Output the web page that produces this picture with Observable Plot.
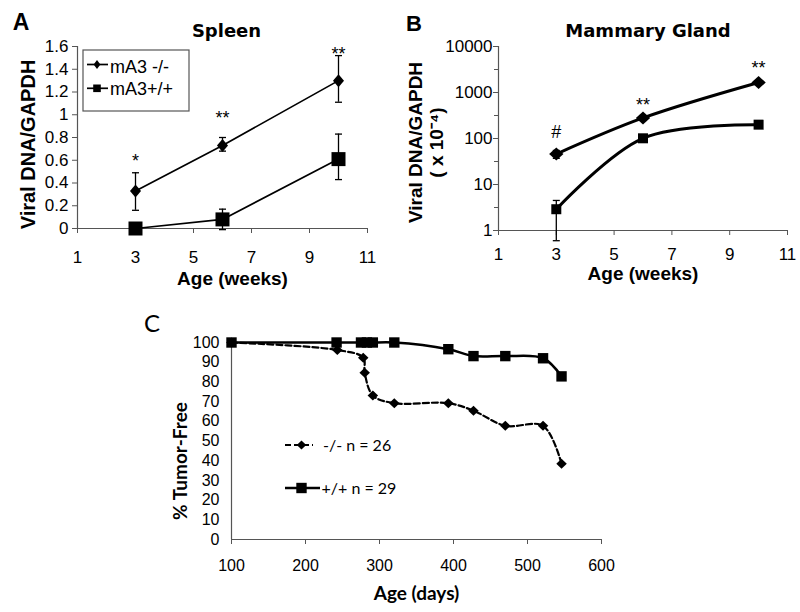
<!DOCTYPE html>
<html><head><meta charset="utf-8">
<script src="https://cdn.jsdelivr.net/npm/d3@7"></script>
<script src="https://cdn.jsdelivr.net/npm/@observablehq/plot@0.6"></script>
<style>
body{margin:0;background:#fff;}
#wrap{position:relative;width:800px;height:612px;overflow:hidden;background:#fff;}
#wrap svg{position:absolute;max-width:none;}
</style></head><body><div id="wrap"></div>
<script>
// ---------- Panel A: Spleen ----------
const weeks = [3, 6, 10];
const spleenKO   = [0.33, 0.73, 1.30];
const spleenKOLo = [0.16, 0.68, 1.11];
const spleenKOHi = [0.49, 0.80, 1.52];
const spleenWT   = [0.00, 0.08, 0.61];
const spleenWTLo = [0.00, -0.01, 0.43];
const spleenWTHi = [0.00, 0.17, 0.83];
const spleenMarks = ["*", "**", "**"];
const spleenMarkY = [0.59, 0.97, 1.53];
const xTicksWeeks = [1, 3, 5, 7, 9, 11];
const yTicksSpleen = [0, 0.2, 0.4, 0.6, 0.8, 1, 1.2, 1.4, 1.6];

// ---------- Panel B: Mammary Gland ----------
const mammaryKO   = [46, 280, 1650];
const mammaryKOLo = [37, 255, 1500];
const mammaryKOHi = [55, 310, 1850];
const mammaryWT   = [2.9, 101, 200];
const mammaryWTLo = [0.6, 95, 185];
const mammaryWTHi = [4.5, 108, 220];
const mammaryMarks = ["#", "**", "**"];
const mammaryMarkY = [134, 531, 3320];
const yTicksMammary = [1, 10, 100, 1000, 10000];
const yMinorMammary = [3.162, 31.62, 316.2, 3162];

// ---------- Panel C: Tumor-free survival ----------
const daysKO = [100, 243, 278, 280, 291, 320, 393, 427, 470, 521, 546];
const tumorFreeKO = [100, 96.2, 92.3, 84.6, 73.1, 69.2, 69.2, 65.4, 57.7, 57.7, 38.5];
const daysWT = [100, 242, 275, 283, 291, 320, 393, 427, 470, 521, 546];
const tumorFreeWT = [100, 100, 100, 100, 100, 100, 96.6, 93.1, 93.1, 92.0, 82.8];
const xTicksDays = [100, 200, 300, 400, 500, 600];
const yTicksPct = [0, 10, 20, 30, 40, 50, 60, 70, 80, 90, 100];

const seriesNames = ["mA3 -/-", "mA3+/+"];
const survivalNames = ["-/- n = 26", "+/+ n = 29"];

// ---------- helpers ----------
const wrap = document.getElementById("wrap");
function place(svg, left, top) { svg.style.left = left + "px"; svg.style.top = top + "px"; wrap.appendChild(svg); }
const capSym = {draw(ctx, size) { const r = Math.sqrt(size / Math.PI); ctx.moveTo(-r, 0); ctx.lineTo(r, 0); }};
const diamondSym = (ratio) => ({draw(ctx, size) { const h = Math.sqrt(size / Math.PI), w = h * ratio; ctx.moveTo(0, -h); ctx.lineTo(w, 0); ctx.lineTo(0, h); ctx.lineTo(-w, 0); ctx.closePath(); }});
const squareSym = {draw(ctx, size) { const h = Math.sqrt(size / Math.PI); ctx.rect(-h, -h, 2 * h, 2 * h); }};
const ARIAL = "'Liberation Sans', Arial, sans-serif";
const CAL = "Lato, 'Open Sans', sans-serif";
const AX = "#555";
const fmt = d => String(d);
const baseStyle = {fontFamily: ARIAL, fontSize: "17px", color: "black", background: "none", overflow: "visible"};
const lbl = {textAnchor: "middle", lineAnchor: "middle", fill: "black", fontWeight: "bold"};

function rows(vals, lo, hi, name) {
  return weeks.map((w, i) => ({week: w, v: vals[i], lo: lo[i], hi: hi[i], group: name}));
}

// ---------- Panel A ----------
const koA = rows(spleenKO, spleenKOLo, spleenKOHi, seriesNames[0]);
const wtA = rows(spleenWT, spleenWTLo, spleenWTHi, seriesNames[1]);
const errA = koA.concat(wtA).filter(d => d.hi > d.lo);
const starsA = weeks.map((w, i) => ({week: w, y: spleenMarkY[i], s: spleenMarks[i]}));

const plotA = Plot.plot({
  width: 400, height: 300, marginLeft: 77, marginRight: 33, marginTop: 46, marginBottom: 72,
  style: baseStyle,
  x: {type: "linear", domain: [1, 11], axis: null},
  y: {type: "linear", domain: [0, 1.6], axis: null},
  marks: [
    Plot.ruleX([1], {stroke: AX, strokeWidth: 1.2}),
    Plot.ruleY([0], {stroke: AX, strokeWidth: 1.2}),
    Plot.axisX(xTicksWeeks, {tickSize: 5, tickPadding: 17, tickFormat: fmt, fontSize: 17, fontFamily: ARIAL, stroke: AX, fill: "black", label: null}),
    Plot.axisY(yTicksSpleen, {tickSize: 5, tickPadding: 4, tickFormat: fmt, fontSize: 17, fontFamily: ARIAL, stroke: AX, fill: "black", label: null}),
    Plot.ruleX(errA, {x: "week", y1: "lo", y2: "hi", stroke: "black", strokeWidth: 1.3}),
    Plot.dot(errA, {x: "week", y: "lo", symbol: capSym, r: 3.5, stroke: "black", fill: "none", strokeWidth: 1.3}),
    Plot.dot(errA, {x: "week", y: "hi", symbol: capSym, r: 3.5, stroke: "black", fill: "none", strokeWidth: 1.3}),
    Plot.line(koA, {x: "week", y: "v", stroke: "black", strokeWidth: 1.7}),
    Plot.line(wtA, {x: "week", y: "v", stroke: "black", strokeWidth: 1.7}),
    Plot.dot(koA, {x: "week", y: "v", symbol: diamondSym(0.85), r: 6.5, fill: "black", stroke: "none"}),
    Plot.dot(wtA, {x: "week", y: "v", symbol: squareSym, r: 7, fill: "black", stroke: "none"}),
    Plot.text(starsA, {x: "week", y: "y", text: "s", fontSize: 18, fontFamily: ARIAL, fill: "black"}),
    Plot.text(["Viral DNA/GAPDH"], {...lbl, frameAnchor: "left", rotate: -90, dx: -49, dy: 7, fontSize: 20, fontFamily: ARIAL}),
    Plot.text(["Age (weeks)"], {...lbl, frameAnchor: "bottom", dx: 10, dy: 50, fontSize: 19, fontFamily: ARIAL}),
    Plot.text(["Spleen"], {...lbl, frameAnchor: "top", dx: 4, dy: -15, fontSize: 18, fontFamily: "DejaVu Sans"})
  ]
});
place(plotA, 0, 0);

// ---------- Panel B ----------
const koB = rows(mammaryKO, mammaryKOLo, mammaryKOHi, seriesNames[0]);
const wtB = rows(mammaryWT, mammaryWTLo, mammaryWTHi, seriesNames[1]);
const errB = koB.concat(wtB);
const starsB = weeks.map((w, i) => ({week: w, y: mammaryMarkY[i], s: mammaryMarks[i]}));

const plotB = Plot.plot({
  width: 400, height: 300, marginLeft: 98, marginRight: 13, marginTop: 46, marginBottom: 70,
  style: baseStyle,
  x: {type: "linear", domain: [1, 11], axis: null},
  y: {type: "log", domain: [1, 10000], axis: null},
  marks: [
    Plot.ruleX([1], {stroke: AX, strokeWidth: 1.2}),
    Plot.ruleY([1], {stroke: AX, strokeWidth: 1.2}),
    Plot.axisX(xTicksWeeks, {tickSize: 5, tickPadding: 12, tickFormat: fmt, fontSize: 17, fontFamily: ARIAL, stroke: AX, fill: "black", label: null}),
    Plot.axisY(yTicksMammary, {tickSize: 5, tickPadding: 1, tickFormat: fmt, fontSize: 17, fontFamily: ARIAL, stroke: AX, fill: "black", label: null}),
    Plot.axisY(yMinorMammary, {tickSize: 4, tickFormat: () => "", stroke: AX, label: null}),
    Plot.ruleX(errB, {x: "week", y1: "lo", y2: "hi", stroke: "black", strokeWidth: 1.3}),
    Plot.dot(errB, {x: "week", y: "lo", symbol: capSym, r: 3.5, stroke: "black", fill: "none", strokeWidth: 1.3}),
    Plot.dot(errB, {x: "week", y: "hi", symbol: capSym, r: 3.5, stroke: "black", fill: "none", strokeWidth: 1.3}),
    Plot.line(koB, {x: "week", y: "v", stroke: "black", strokeWidth: 3, curve: "catmull-rom"}),
    Plot.line(wtB, {x: "week", y: "v", stroke: "black", strokeWidth: 3, curve: "catmull-rom"}),
    Plot.dot(koB, {x: "week", y: "v", symbol: diamondSym(1.1), r: 6.5, fill: "black", stroke: "none"}),
    Plot.dot(wtB, {x: "week", y: "v", symbol: squareSym, r: 5, fill: "black", stroke: "none"}),
    Plot.text(starsB, {x: "week", y: "y", text: "s", fontSize: 18, fontFamily: ARIAL, fill: "black"}),
    Plot.text(["Viral DNA/GAPDH"], {...lbl, frameAnchor: "left", rotate: -90, dx: -83, dy: 4, fontSize: 19, fontFamily: ARIAL}),
    Plot.text(["( x 10⁻⁴)"], {...lbl, frameAnchor: "left", rotate: -90, dx: -62, dy: 4, fontSize: 19, fontFamily: ARIAL}),
    Plot.text(["Age (weeks)"], {...lbl, frameAnchor: "bottom", dx: 0, dy: 43, fontSize: 19, fontFamily: ARIAL}),
    Plot.text(["Mammary Gland"], {...lbl, frameAnchor: "top", dx: 5, dy: -15, fontSize: 18, fontFamily: "DejaVu Sans"})
  ]
});
place(plotB, 400, 0);

// ---------- Panel C ----------
const koC = daysKO.map((d, i) => ({day: d, pct: tumorFreeKO[i], group: survivalNames[0]}));
const wtC = daysWT.map((d, i) => ({day: d, pct: tumorFreeWT[i], group: survivalNames[1]}));

const plotC = Plot.plot({
  width: 800, height: 312, marginLeft: 231, marginRight: 199, marginTop: 42, marginBottom: 73,
  style: {...baseStyle, fontSize: "16px"},
  x: {type: "linear", domain: [100, 600], axis: null},
  y: {type: "linear", domain: [0, 100], axis: null},
  marks: [
    Plot.ruleX([100], {stroke: AX, strokeWidth: 1.2}),
    Plot.ruleY([0], {stroke: AX, strokeWidth: 1.2}),
    Plot.axisX(xTicksDays, {tickSize: 5, tickPadding: 15, tickFormat: fmt, fontSize: 16, fontFamily: ARIAL, stroke: AX, fill: "black", label: null}),
    Plot.axisY(yTicksPct, {tickSize: 0, tickPadding: 12, tickFormat: fmt, fontSize: 16, fontFamily: ARIAL, stroke: AX, fill: "black", label: null}),
    Plot.line(koC, {x: "day", y: "pct", stroke: "black", strokeWidth: 2.2, strokeDasharray: "6,3", curve: "catmull-rom"}),
    Plot.line(wtC, {x: "day", y: "pct", stroke: "black", strokeWidth: 2.5, curve: "catmull-rom"}),
    Plot.dot(koC, {x: "day", y: "pct", symbol: diamondSym(1.05), r: 5, fill: "black", stroke: "none"}),
    Plot.dot(wtC, {x: "day", y: "pct", symbol: squareSym, r: 5.2, fill: "black", stroke: "none"}),
    Plot.text(["% Tumor-Free"], {...lbl, frameAnchor: "left", rotate: -90, dx: -51, dy: 20, fontSize: 19, fontFamily: CAL}),
    Plot.text(["Age (days)"], {...lbl, frameAnchor: "bottom", dx: 0, dy: 54, fontSize: 19, fontFamily: CAL})
  ]
});
place(plotC, 0, 300);

// ---------- Overlay: panel letters and legends ----------
const ov = d3.create("svg").attr("width", 800).attr("height", 612).style("left", "0px").style("top", "0px").style("pointer-events", "none");
ov.append("text").attr("x", 21).attr("y", 30).attr("text-anchor", "middle").attr("font-family", ARIAL).attr("font-weight", "bold").attr("font-size", 23).text("A");
ov.append("text").attr("x", 414).attr("y", 30.5).attr("text-anchor", "middle").attr("font-family", ARIAL).attr("font-weight", "bold").attr("font-size", 22).text("B");
ov.append("text").attr("x", 152).attr("y", 331.5).attr("text-anchor", "middle").attr("font-family", CAL).attr("font-size", 24).text("C");

// Legend A
const lgA = ov.append("g");
lgA.append("rect").attr("x", 83).attr("y", 50).attr("width", 106).attr("height", 61).attr("fill", "white").attr("stroke", "#555").attr("stroke-width", 1.2);
const legRowsA = [{y: 64.5, sym: diamondSym(0.75), r: 4.5, base: 73}, {y: 88.3, sym: squareSym, r: 3.8, base: 94.5}];
legRowsA.forEach((r, i) => {
  lgA.append("line").attr("x1", 87).attr("x2", 108).attr("y1", r.y).attr("y2", r.y).attr("stroke", "black").attr("stroke-width", 1.7);
  lgA.append("path").attr("transform", `translate(97,${r.y})`).attr("d", d3.symbol(r.sym, Math.PI * r.r * r.r)()).attr("fill", "black");
  lgA.append("text").attr("x", 110).attr("y", r.base).attr("font-family", ARIAL).attr("font-size", 18).text(seriesNames[i]);
});

// Legend C
const lgC = ov.append("g");
lgC.append("line").attr("x1", 285).attr("x2", 313).attr("y1", 445).attr("y2", 445).attr("stroke", "black").attr("stroke-width", 2.2).attr("stroke-dasharray", "6,3");
lgC.append("path").attr("transform", "translate(301.5,445)").attr("d", d3.symbol(diamondSym(1.05), Math.PI * 20)()).attr("fill", "black");
lgC.append("text").attr("x", 323).attr("y", 450.8).attr("font-family", CAL).attr("font-size", 16).text(survivalNames[0]);
lgC.append("line").attr("x1", 285).attr("x2", 320).attr("y1", 488).attr("y2", 488).attr("stroke", "black").attr("stroke-width", 2.5);
lgC.append("path").attr("transform", "translate(301.5,488)").attr("d", d3.symbol(squareSym, Math.PI * 27)()).attr("fill", "black");
lgC.append("text").attr("x", 321.5).attr("y", 493.8).attr("font-family", CAL).attr("font-size", 16).text(survivalNames[1]);

wrap.appendChild(ov.node());
</script>
</body></html>
